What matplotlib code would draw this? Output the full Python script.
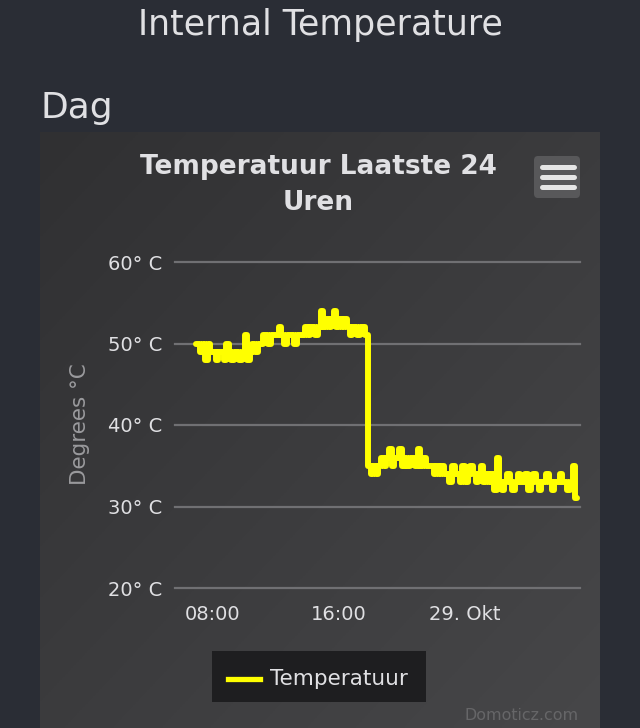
import numpy as np
import pandas as pd
import matplotlib
matplotlib.use("Agg")
import matplotlib.pyplot as plt
import matplotlib.dates as mdates
from matplotlib.patches import Rectangle, FancyBboxPatch

# ---------------- data ----------------
page_title = "Internal Temperature"
section_title = "Dag"
chart_title = "Temperatuur Laatste 24\nUren"
y_label = "Degrees °C"
series_name = "Temperatuur"
credit = "Domoticz.com"

start_time = "2019-10-28 06:55"
step_minutes = 10
temperatures = [
    50, 50, 49, 50, 48, 50, 49, 49, 48, 49, 49, 48, 50, 49, 48, 49, 49, 48, 49, 51, 48,
    49, 50, 49, 50, 50,
    51, 51, 50, 51, 51, 51, 52, 51, 50, 51, 51, 51, 50, 51, 51, 51,
    52, 51, 52, 52, 51, 52,
    54, 52, 53, 52, 53, 54, 52, 53, 52, 53,
    52, 51, 52, 52, 51, 52, 52, 51,
    35, 34, 35, 34, 35,
    36, 35, 36, 37, 35, 36, 36, 37, 35, 36, 35, 36, 36, 35, 37, 35, 36, 35, 35,
    35, 34, 35, 34, 35, 34, 34, 33, 35, 34, 34,
    33, 35, 33, 34, 35, 34, 33, 34, 35, 33, 34, 33, 34, 32, 36,
    33, 32, 33, 34, 33, 32, 33, 34, 33, 33, 34, 32, 33, 34, 33, 32, 33, 33, 34, 33,
    32, 33, 33, 34, 33, 33, 32, 33, 35, 31,
]
y_ticks = [20, 30, 40, 50, 60]
y_tick_labels = ["20° C", "30° C", "40° C", "50° C", "60° C"]
x_tick_times = ["2019-10-28 08:00", "2019-10-28 16:00", "2019-10-29 00:00"]
x_tick_labels = ["08:00", "16:00", "29. Okt"]
x_range = ["2019-10-28 05:35", "2019-10-29 07:18"]

times = pd.date_range(start_time, periods=len(temperatures), freq=f"{step_minutes}min")

# ---------------- figure ----------------
W, H = 640, 728
fig = plt.figure(figsize=(W / 100, H / 100), dpi=100)
fig.patch.set_facecolor("#2a2d35")

def fx(px):
    return px / W

def fy(py):
    return 1 - py / H

# chart panel with diagonal gradient
panel = fig.add_axes([fx(40), 0, fx(560), fy(132)])
gx, gy = np.meshgrid(np.linspace(0, 1, 200), np.linspace(0, 1, 200))
g = (gx + gy) / 2
c0 = np.array([0x30, 0x30, 0x32]) / 255
c1 = np.array([0x47, 0x47, 0x49]) / 255
img = c0[None, None, :] * (1 - g[..., None]) + c1[None, None, :] * g[..., None]
panel.imshow(img, aspect="auto", extent=[0, 1, 0, 1], origin="upper")
panel.set_axis_off()

# plot axes
ax = fig.add_axes([fx(175), fy(588), fx(405), (588 - 262) / H])
ax.patch.set_alpha(0)
ax.plot(times, temperatures, color="#ffff00", lw=4.3, drawstyle="steps-mid",
        solid_joinstyle="round", solid_capstyle="round", zorder=3, clip_on=False)
ax.set_ylim(20, 60)
ax.set_xlim(pd.Timestamp(x_range[0]), pd.Timestamp(x_range[1]))
ax.set_yticks(y_ticks)
ax.set_yticklabels(y_tick_labels)
ax.set_xticks([mdates.date2num(pd.Timestamp(t)) for t in x_tick_times])
ax.set_xticklabels(x_tick_labels)
for s in ax.spines.values():
    s.set_visible(False)
ax.grid(axis="y", color="#707073", lw=1.6)
for gl in ax.get_ygridlines():
    gl.set_clip_on(False)
ax.tick_params(axis="both", length=0, colors="#e0e0e3", labelsize=14)
ax.tick_params(axis="y", pad=9)
ax.tick_params(axis="x", pad=12)

# texts
fig.text(0.5, fy(25), page_title, ha="center", va="center", color="#e0e0e3",
         fontsize=25)
fig.text(fx(40), fy(108), section_title, ha="left", va="center", color="#e0e0e3",
         fontsize=26)
fig.text(fx(318), fy(185), chart_title, ha="center", va="center", color="#e0e0e3",
         fontsize=19, fontweight="bold", linespacing=1.55)
fig.text(fx(80), fy(424), y_label, ha="center", va="center", rotation=90,
         color="#9a9a9d", fontsize=15.5)
fig.text(fx(579), fy(716), credit, ha="right", va="center", color="#666668",
         fontsize=11.4)

# hamburger button
btn = FancyBboxPatch((fx(534), fy(198)), fx(46), (198 - 156) / H,
                     boxstyle="round,pad=0,rounding_size=0.006",
                     transform=fig.transFigure, facecolor="#58585a",
                     edgecolor="none")
fig.add_artist(btn)
for yy in [167, 177, 187]:
    fig.add_artist(plt.Line2D([fx(542), fx(574)], [fy(yy), fy(yy)],
                              transform=fig.transFigure, color="#e6e6e6",
                              lw=3.6, solid_capstyle="round"))

# legend box
fig.add_artist(Rectangle((fx(212), fy(702)), fx(214), (702 - 651) / H,
                         transform=fig.transFigure, facecolor="#1e1e20",
                         edgecolor="none"))
fig.add_artist(plt.Line2D([fx(228), fx(260)], [fy(679), fy(679)],
                          transform=fig.transFigure, color="#ffff00", lw=3.8))
fig.text(fx(270), fy(679), series_name, ha="left", va="center",
         color="#e0e0e3", fontsize=15.5)

fig.savefig("out.png", dpi=100, facecolor=fig.get_facecolor())
